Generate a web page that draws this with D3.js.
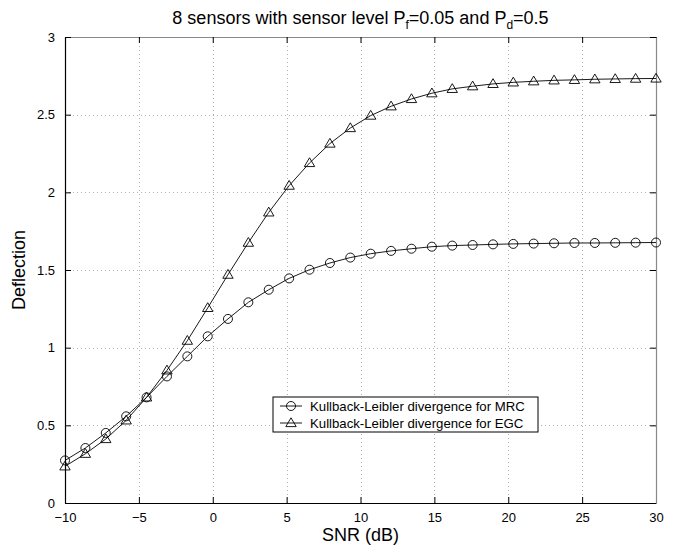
<!DOCTYPE html>
<html>
<head>
<meta charset="utf-8">
<script src="https://cdn.jsdelivr.net/npm/d3@7"></script>
<style>
  body { margin: 0; background: #fff; }
  svg { font-family: "Liberation Sans", Arial, sans-serif; }
</style>
</head>
<body>
<svg id="chart" width="678" height="551"></svg>
<script>
// SNR grid (dB), 30 points from -10 to 30
const snr = [-10, -8.62, -7.24, -5.86, -4.48, -3.10, -1.72, -0.34, 1.03, 2.41,
  3.79, 5.17, 6.55, 7.93, 9.31, 10.69, 12.07, 13.45, 14.83, 16.21,
  17.59, 18.97, 20.34, 21.72, 23.10, 24.48, 25.86, 27.24, 28.62, 30]
const mrc = [0.274, 0.354, 0.451, 0.558, 0.680, 0.815, 0.944, 1.073, 1.185, 1.292,
  1.373, 1.446, 1.502, 1.545, 1.580, 1.605, 1.623, 1.637, 1.650, 1.657,
  1.661, 1.665, 1.668, 1.670, 1.672, 1.674, 1.674, 1.675, 1.676, 1.677]
const egc = [0.236, 0.317, 0.412, 0.532, 0.680, 0.854, 1.045, 1.256, 1.470, 1.676,
  1.871, 2.043, 2.189, 2.314, 2.414, 2.494, 2.554, 2.601, 2.638, 2.666,
  2.683, 2.698, 2.708, 2.715, 2.721, 2.724, 2.728, 2.730, 2.732, 2.733]
const xTicks = [-10, -5, 0, 5, 10, 15, 20, 25, 30]
const yTicks = [0, 0.5, 1, 1.5, 2, 2.5, 3]
const legendLabels = ['Kullback-Leibler divergence for MRC', 'Kullback-Leibler divergence for EGC']

const margin = {left: 65, right: 22, top: 37, bottom: 48}
const W = 678, H = 551
const svg = d3.select('#chart')
const x = d3.scaleLinear().domain([-10, 30]).range([margin.left, W - margin.right])
const y = d3.scaleLinear().domain([0, 3]).range([H - margin.bottom, margin.top])

// grid
const grid = svg.append('g').attr('stroke', '#b0b0b0').attr('stroke-width', 1).attr('stroke-dasharray', '1,3')
grid.selectAll('.gx').data(xTicks.slice(1, -1)).join('line')
  .attr('x1', d => Math.round(x(d)) + 0.5).attr('x2', d => Math.round(x(d)) + 0.5)
  .attr('y1', y(0)).attr('y2', y(3))
grid.selectAll('.gy').data(yTicks.slice(1, -1)).join('line')
  .attr('y1', d => Math.round(y(d)) + 0.5).attr('y2', d => Math.round(y(d)) + 0.5)
  .attr('x1', x(-10)).attr('x2', x(30))

// axes (ticks inside, on all four sides)
const tl = 6
svg.append('g').attr('transform', `translate(0,${y(0)})`)
  .call(d3.axisBottom(x).tickValues(xTicks).tickSizeInner(-tl).tickSizeOuter(0).tickPadding(10).tickFormat(d3.format('d')))
const xTop = svg.append('g').attr('transform', `translate(0,${y(3)})`)
  .call(d3.axisTop(x).tickValues(xTicks).tickSizeInner(-tl).tickSizeOuter(0).tickFormat(''))
svg.append('g').attr('transform', `translate(${x(-10)},0)`)
  .call(d3.axisLeft(y).tickValues(yTicks).tickSizeInner(-tl).tickSizeOuter(0).tickPadding(10).tickFormat(d => d3.format('')(d)))
const yRight = svg.append('g').attr('transform', `translate(${x(30)},0)`)
  .call(d3.axisRight(y).tickValues(yTicks).tickSizeInner(-tl).tickSizeOuter(0).tickFormat(''))

svg.selectAll('.domain').attr('stroke', '#000').attr('stroke-width', 1.2)
xTop.select('.domain').attr('stroke', '#888')
yRight.select('.domain').attr('stroke', '#888')
svg.selectAll('.tick line').attr('stroke', '#000')
svg.selectAll('.tick text').attr('font-size', 13).attr('fill', '#000').attr('font-family', '"Liberation Sans", Arial, sans-serif')

// series
const line = d3.line().x(d => x(d[0])).y(d => y(d[1]))
const series = [
  {name: legendLabels[0], vals: mrc, marker: 'circle'},
  {name: legendLabels[1], vals: egc, marker: 'triangle'}
]
const circlePath = d3.symbol().type(d3.symbolCircle).size(64)()
const triPath = 'M0,-5.2L5.2,3.6L-5.2,3.6Z'

series.forEach(s => {
  const pts = snr.map((v, i) => [v, s.vals[i]])
  svg.append('path').datum(pts).attr('d', line)
    .attr('fill', 'none').attr('stroke', '#000').attr('stroke-width', 0.9)
  svg.append('g').selectAll('path').data(pts).join('path')
    .attr('transform', d => `translate(${x(d[0])},${y(d[1])})`)
    .attr('d', s.marker === 'circle' ? circlePath : triPath)
    .attr('fill', 'none').attr('stroke', '#000').attr('stroke-width', 0.9)
})

// legend
const lg = svg.append('g').attr('transform', 'translate(273,397)')
lg.append('rect').attr('width', 265).attr('height', 35)
  .attr('fill', '#fff').attr('stroke', '#000').attr('stroke-width', 1)
series.forEach((s, i) => {
  const cy = 9 + i * 17
  lg.append('line').attr('x1', 7).attr('x2', 29).attr('y1', cy).attr('y2', cy)
    .attr('stroke', '#000').attr('stroke-width', 0.9)
  lg.append('path').attr('transform', `translate(18,${cy})`)
    .attr('d', s.marker === 'circle' ? circlePath : triPath)
    .attr('fill', 'none').attr('stroke', '#000').attr('stroke-width', 0.9)
  lg.append('text').attr('x', 37).attr('y', cy + 4.5).attr('font-size', 13.2).text(s.name)
})

// labels
svg.append('text').attr('x', (x(-10) + x(30)) / 2).attr('y', 541)
  .attr('text-anchor', 'middle').attr('font-size', 18).text('SNR (dB)')
svg.append('text').attr('transform', `translate(25,${(y(0) + y(3)) / 2}) rotate(-90)`)
  .attr('text-anchor', 'middle').attr('font-size', 18).text('Deflection')

const title = svg.append('text').attr('x', (x(-10) + x(30)) / 2).attr('y', 24)
  .attr('text-anchor', 'middle').attr('font-size', 18)
title.append('tspan').text('8 sensors with sensor level P')
title.append('tspan').attr('font-size', 12).attr('dy', 5).text('f')
title.append('tspan').attr('dy', -5).text('=0.05 and P')
title.append('tspan').attr('font-size', 12).attr('dy', 5).text('d')
title.append('tspan').attr('dy', -5).text('=0.5')
</script>
</body>
</html>
